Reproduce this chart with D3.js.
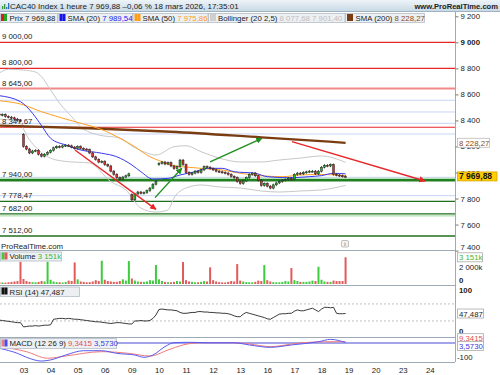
<!DOCTYPE html>
<html><head><meta charset="utf-8">
<script src="https://cdn.jsdelivr.net/npm/d3@7/dist/d3.min.js"></script>
<style>
body{margin:0;background:#fff}
svg{display:block;font-family:"Liberation Sans",Arial,sans-serif}
</style>
</head><body>
<svg id="chart" width="500" height="375"></svg>
<script>
// hourly closes per session (02 is partial)
const sessions = ["02","03","04","05","06","09","10","11","12","13","16","17","18"];
const dayOpen = [8450, 8293, 8155, 8185, 8085, 7830, 8060, 8060, 8030, 7930, 7915, 7950, 8010];
const closes = [
  [8440, 8445, 8430, 8425, 8420, 8410, 8400, 8395],
  [8200, 8180, 8150, 8165, 8170, 8140, 8125, 8140, 8155],
  [8170, 8190, 8200, 8195, 8205, 8210, 8205, 8195, 8185],
  [8200, 8185, 8180, 8175, 8150, 8120, 8100, 8080, 8085],
  [8060, 8050, 8010, 7985, 7960, 7950, 7965, 7975, 7990],
  [7790, 7835, 7850, 7840, 7845, 7860, 7880, 7910, 7930],
  [8070, 8080, 8065, 8075, 8050, 8030, 8045, 8095, 8060],
  [8000, 7985, 7995, 8010, 8000, 8020, 8045, 8040, 8030],
  [8020, 8010, 8005, 8000, 7995, 7985, 7970, 7960, 7930],
  [7915, 7935, 7960, 7985, 7995, 7975, 7940, 7900, 7915],
  [7895, 7880, 7905, 7920, 7930, 7940, 7945, 7955, 7945],
  [7985, 7995, 7990, 8000, 8005, 8010, 8010, 7990, 8010],
  [8040, 8055, 8050, 8060, 7985, 7980, 7975, 7970, 7969.88]
];
// volume in thousands
const volumes = [
  [200, 180, 160, 200, 250, 300, 350, 2620],
  [600, 350, 250, 220, 200, 250, 350, 300, 2620],
  [500, 300, 220, 200, 180, 250, 400, 350, 2550],
  [550, 300, 250, 200, 220, 300, 450, 350, 2740],
  [500, 350, 300, 250, 250, 350, 550, 400, 2700],
  [650, 400, 300, 250, 250, 300, 450, 400, 2235],
  [550, 350, 250, 220, 200, 250, 350, 300, 2590],
  [450, 300, 250, 200, 200, 250, 350, 300, 1960],
  [450, 300, 220, 200, 180, 250, 350, 300, 2350],
  [400, 300, 220, 200, 200, 250, 400, 350, 2235],
  [450, 300, 220, 200, 200, 250, 350, 300, 1880],
  [450, 350, 250, 250, 250, 300, 400, 350, 2035],
  [500, 300, 250, 250, 400, 350, 350, 350, 3151]
];
const rsi = [
  [32, 31, 30, 29, 28, 27, 26, 26],
  [16, 17, 18, 18, 19, 18, 19, 20, 20],
  [21, 34, 35, 36, 36, 35, 36, 35, 34],
  [34, 33, 32, 31, 30, 29, 28, 28, 27],
  [26, 25, 24, 25, 26, 26, 25, 24, 23],
  [23, 30, 30, 31, 30, 30, 31, 36, 44],
  [57, 58, 57, 56, 56, 55, 54, 50, 48],
  [48, 49, 50, 50, 52, 52, 51, 51, 50],
  [50, 49, 49, 48, 48, 47, 45, 42, 40],
  [40, 46, 50, 48, 46, 44, 42, 40, 38],
  [35, 34, 38, 42, 46, 47, 47, 48, 48],
  [53, 56, 54, 54, 56, 58, 60, 56, 52],
  [58, 62, 62, 61, 62, 48, 47, 47, 47.487]
];
// indicators read at sample bars: [bar, value]
const sma20 = [[0,8590],[7,8544],[11,8455],[14,8360],[17,8263],[22,8211],[27,8173],[34,8148],[39,8121],[44,8058],[47,8006],[51,7950],[56,7955],[60,7981],[65,8006],[69,8032],[74,8032],[78,8006],[85,7994],[89,7968],[96,7960],[103,7968],[107,7976],[111,7994],[115,7989.54]];
const sma50 = [[0,8551],[7,8526],[14,8467],[20,8424],[27,8378],[34,8330],[40,8263],[45,8198],[49,8134],[54,8083],[58,8052],[63,8040],[67,8032],[74,8019],[80,7994],[87,7975],[94,7968],[100,7981],[107,7985],[115,7975.86]];
const sma200 = [[0,8360],[30,8340],[57,8313],[87,8270],[115,8228.27]];
const bollUp = [[0,8765],[3,8793],[8,8787],[12,8772],[14,8736],[17,8634],[20,8532],[24,8429],[27,8350],[33,8288],[40,8265],[44,8204],[49,8150],[52,8134],[58,8198],[62,8206],[67,8160],[73,8111],[80,8081],[87,8081],[93,8096],[100,8111],[107,8127],[115,8077.68]];
const bollLo = [[0,8410],[6,8395],[10,8250],[13,8173],[17,8110],[22,8085],[30,8073],[37,7930],[42,7866],[47,7727],[52,7696],[56,7712],[58,7804],[62,7881],[67,7904],[73,7889],[80,7881],[87,7858],[93,7850],[100,7858],[107,7866],[115,7901.4]];
const macd = [[0,-38],[6,-74],[9,-102],[14,-129],[17,-121],[22,-86],[28,-55],[34,-55],[39,-74],[45,-86],[48,-102],[51,-86],[55,-26],[58,2],[63,5],[69,2],[78,2],[83,-14],[90,-31],[97,-14],[106,9],[110,26],[115,3.573]];
const signal = [[0,-26],[9,-62],[16,-109],[22,-93],[34,-62],[43,-74],[50,-93],[56,-50],[61,-14],[67,2],[78,2],[83,-7],[90,-26],[99,-2],[108,9],[115,9.3415]];
// horizontal levels
const resistances = [9000, 8800, 8645, 8347.67];
const supports = [7940, 7778.47, 7682, 7512];
const guideLines = [8555, 8465, 8378, 8296, 7963, 7822];
// drawn trend arrows: [[bar, price], [bar, price]]
const redArrows = [[[25.1, 8173], [52, 7717]], [[97.2, 8237], [141.4, 7935]]];
const greenArrows = [[[51.7, 7807], [60.6, 8032]], [[70, 8081], [87.2, 8263]]];
const axisDays = ["03","04","05","06","09","10","11","12","13","16","17","18","19","20","23","24"];
const priceTicks = [9200, 9000, 8800, 8600, 8400, 8200, 8000, 7800, 7600, 7400];

const svg = d3.select("#chart");
const R = 455;
const frVal = d3.formatLocale({decimal: ",", thousands: " ", grouping: [3]});
const f0 = frVal.format(",.0f"), f2 = frVal.format(",.2f");

// flatten bars
const bars = [];
closes.forEach((row, d) => row.forEach((c, k) => {
  bars.push({i: bars.length, o: k === 0 ? dayOpen[d] : row[k - 1], c: c, vol: volumes[d][k], rsi: rsi[d][k]});
}));

const x = d3.scaleLinear().domain([8, 143]).range([23.5, 23.5 + 135 * 3.01]);
const y = d3.scaleLinear().domain([7400, 9200]).range([250.6, 16.3]);
const yv = d3.scaleLinear().domain([0, 3151]).range([284, 257.3]);
const yr = d3.scaleLinear().domain([0, 100]).range([333.7, 291.2]);
const ym = d3.scaleLinear().domain([-100, 0]).range([357, 343]);

const defs = svg.append("defs");
function clip(id, y0, y1){
  defs.append("clipPath").attr("id", id).append("rect").attr("x", 0).attr("y", y0).attr("width", R).attr("height", y1 - y0);
}
clip("cMain", 22, 250); clip("cVol", 250, 285); clip("cRsi", 285, 337); clip("cMacd", 337, 362);
[["aRed", "#e8262a"], ["aGreen", "#1f8f1f"]].forEach(function(m){
  defs.append("marker").attr("id", m[0]).attr("viewBox", "0 0 10 10").attr("refX", 9).attr("refY", 5)
    .attr("markerWidth", 4.5).attr("markerHeight", 4.5).attr("orient", "auto")
    .append("path").attr("d", "M0,0L10,5L0,10z").attr("fill", m[1]);
});

// title bar
const grad = defs.append("linearGradient").attr("id", "gTitle").attr("x1", 0).attr("y1", 0).attr("x2", 0).attr("y2", 1);
grad.append("stop").attr("offset", 0).attr("stop-color", "#eef4f8");
grad.append("stop").attr("offset", 1).attr("stop-color", "#c9dae6");
svg.append("rect").attr("width", 500).attr("height", 11).attr("fill", "url(#gTitle)");
svg.append("line").attr("x1", 0).attr("x2", 500).attr("y1", 11.5).attr("y2", 11.5).attr("stroke", "#9fb2c2");
[[2,3,"#3a9a3a"],[4,5,"#3a9a3a"],[6,2,"#2a6fc0"],[8,6,"#2a6fc0"]].forEach(function(b){
  svg.append("rect").attr("x", b[0]).attr("y", 9 - b[1]).attr("width", 1.3).attr("height", b[1]).attr("fill", b[2]);
});
svg.append("text").attr("x", 10).attr("y", 9).attr("font-size", 8).attr("fill", "#1a1a1a")
  .text("CAC40 Index 1 heure 7 969,88 \u20130,06 % 18 mars 2026, 17:35:01");
svg.append("text").attr("x", 498).attr("y", 9).attr("text-anchor", "end").attr("font-size", 7.6)
  .attr("font-weight", "bold").attr("fill", "#222").text("www.ProRealTime.com");

// main panel
const gMain = svg.append("g").attr("clip-path", "url(#cMain)");
guideLines.forEach(function(v){
  gMain.append("line").attr("x1", 0).attr("x2", R).attr("y1", y(v)).attr("y2", y(v)).attr("stroke", "#c6d4f6").attr("stroke-width", 1);
});
resistances.forEach(function(v){
  const pink = v === 8645;
  gMain.append("line").attr("x1", 0).attr("x2", R).attr("y1", y(v)).attr("y2", y(v))
    .attr("stroke", pink ? "#f08a8a" : "#e8262a").attr("stroke-width", pink ? 2 : 1.2);
});
supports.forEach(function(v){
  gMain.append("line").attr("x1", 0).attr("x2", R).attr("y1", y(v)).attr("y2", y(v))
    .attr("stroke", v === 7940 ? "#217e21" : "#1f6f1f").attr("stroke-width", v === 7940 ? 2.4 : 1.4);
});
gMain.append("line").attr("x1", 0).attr("x2", R).attr("y1", y(7682) + 2).attr("y2", y(7682) + 2).attr("stroke", "#9fd89f").attr("stroke-width", 1);
gMain.append("line").attr("x1", 0).attr("x2", R).attr("y1", y(7940) - 2).attr("y2", y(7940) - 2).attr("stroke", "#a6dba6").attr("stroke-width", 1);

const curve = d3.line().x(d => x(d[0])).y(d => y(d[1])).curve(d3.curveMonotoneX);
[[bollUp, "#c8c8c8", 1], [bollLo, "#c8c8c8", 1], [sma200, "#7a3d12", 2.3], [sma50, "#ffa020", 1], [sma20, "#3838f0", 1]].forEach(function(s){
  gMain.append("path").attr("d", curve(s[0])).attr("fill", "none").attr("stroke", s[1]).attr("stroke-width", s[2]);
});

// candles
const cg = gMain.append("g");
bars.forEach(function(b){
  const hi = Math.min(y(b.o), y(b.c)), lo = Math.max(y(b.o), y(b.c));
  cg.append("line").attr("x1", x(b.i)).attr("x2", x(b.i)).attr("y1", hi - 1.2).attr("y2", lo + 1.2).attr("stroke", "#222").attr("stroke-width", 0.8);
  cg.append("rect").attr("x", x(b.i) - 1).attr("y", hi).attr("width", 2).attr("height", Math.max(1, lo - hi))
    .attr("fill", b.c >= b.o ? "#27b327" : "#d93030").attr("stroke", "#222").attr("stroke-width", 0.5);
});

// arrows
[[redArrows, "#e8262a", "aRed"], [greenArrows, "#1f8f1f", "aGreen"]].forEach(function(a){
  a[0].forEach(function(seg){
    gMain.append("line").attr("x1", x(seg[0][0])).attr("y1", y(seg[0][1])).attr("x2", x(seg[1][0])).attr("y2", y(seg[1][1]))
      .attr("stroke", a[1]).attr("stroke-width", 1.4).attr("marker-end", "url(#" + a[2] + ")");
  });
});

// level labels
resistances.concat(supports).forEach(function(v){
  gMain.append("text").attr("x", 2).attr("y", y(v) - 3).attr("font-size", 7.8).attr("fill", "#222").text(f2(v));
});
svg.append("text").attr("x", 1).attr("y", 248.5).attr("font-size", 7.8).attr("fill", "#222").text("ProRealTime.com");
svg.append("rect").attr("x", 341.5).attr("y", 240.5).attr("width", 7).attr("height", 6.5).attr("rx", 1).attr("fill", "#f2f2f2").attr("stroke", "#999").attr("stroke-width", 0.6);
svg.append("text").attr("x", 345).attr("y", 246).attr("text-anchor", "middle").attr("font-size", 6).attr("fill", "#555").text("i");

// legend row
function legendBox(x0, w, y0, h){
  svg.append("rect").attr("x", x0 + 0.5).attr("y", y0 + 0.5).attr("width", w).attr("height", h).attr("fill", "#edf0f3").attr("stroke", "#b3bcc5").attr("stroke-width", 0.8);
}
function sq(x0, y0, c1, c2){
  svg.append("rect").attr("x", x0).attr("y", y0).attr("width", 3).attr("height", 7).attr("fill", c1);
  svg.append("rect").attr("x", x0 + 3).attr("y", y0).attr("width", 3).attr("height", 7).attr("fill", c2 || c1);
}
function ltext(x0, y0, parts){
  const t = svg.append("text").attr("x", x0).attr("y", y0).attr("font-size", 7.8);
  parts.forEach(p => t.append("tspan").attr("fill", p[1]).text(p[0]));
}
legendBox(0, 57, 13, 9); sq(1, 14, "#d42020", "#22a822"); ltext(9.5, 20.5, [["Prix 7 969,88", "#222"]]);
legendBox(57.5, 74.5, 13, 9); sq(59.5, 14, "#1414ee"); ltext(67.5, 20.5, [["SMA (20) ", "#222"], ["7 989,54", "#2020f0"]]);
legendBox(132.5, 75, 13, 9); sq(134.5, 14, "#ff9c1a"); ltext(142.5, 20.5, [["SMA (50) ", "#222"], ["7 975,86", "#ff9c1a"]]);
legendBox(208, 136.5, 13, 9); sq(210, 14, "#cfcfcf"); ltext(218, 20.5, [["Bollinger (20 2,5) ", "#222"], ["8 077,68 7 901,40", "#bdbdbd"]]);
legendBox(345, 79, 13, 9); sq(347, 14, "#7a3d12"); ltext(355.5, 20.5, [["SMA (200) ", "#222"], ["8 228,27", "#8a4a1a"]]);

// volume panel
const gVol = svg.append("g").attr("clip-path", "url(#cVol)");
bars.forEach(function(b){
  gVol.append("rect").attr("x", x(b.i) - 1).attr("y", yv(b.vol)).attr("width", 2).attr("height", yv(0) - yv(b.vol))
    .attr("fill", b.c >= b.o ? "#3ccc3c" : "#e25a5a");
});
legendBox(0, 61, 251.5, 9); sq(1.5, 252.5, "#3ccc3c", "#e25a5a"); ltext(9.5, 259.3, [["Volume ", "#222"], ["3 151k", "#3bb53b"]]);

// RSI panel
const gRsi = svg.append("g").attr("clip-path", "url(#cRsi)");
[70, 30].forEach(function(v){
  gRsi.append("line").attr("x1", 0).attr("x2", R).attr("y1", yr(v)).attr("y2", yr(v)).attr("stroke", "#b0b0b0").attr("stroke-dasharray", "2,2").attr("stroke-width", 0.8);
});
gRsi.append("path").attr("d", d3.line().x(d => x(d.i)).y(d => yr(d.rsi))(bars)).attr("fill", "none").attr("stroke", "#222").attr("stroke-width", 0.9);
legendBox(0, 79, 286.5, 9.5); sq(1.5, 287.5, "#111"); ltext(9.5, 294.5, [["RSI (14) 47,487", "#222"]]);

// MACD panel
const gMacd = svg.append("g").attr("clip-path", "url(#cMacd)");
gMacd.append("line").attr("x1", 0).attr("x2", R).attr("y1", ym(0)).attr("y2", ym(0)).attr("stroke", "#4a4ad8").attr("stroke-width", 1.2);
const ml = d3.line().x(d => x(d[0])).y(d => ym(d[1])).curve(d3.curveMonotoneX);
gMacd.append("path").attr("d", ml(signal)).attr("fill", "none").attr("stroke", "#f07a7a").attr("stroke-width", 1);
gMacd.append("path").attr("d", ml(macd)).attr("fill", "none").attr("stroke", "#5a5af0").attr("stroke-width", 1);
legendBox(0, 116, 338, 10); sq(1.5, 339.5, "#f07a7a", "#4a4af0");
ltext(9.5, 346.3, [["MACD (12 26 9) ", "#222"], ["9,3415 ", "#e05050"], ["3,5730", "#3a3ae0"]]);

// frames
const frame = svg.append("g").attr("stroke", "#9eaab6").attr("stroke-width", 1);
[250, 285, 337, 362].forEach(function(v){
  frame.append("line").attr("x1", 0).attr("x2", R).attr("y1", v + 0.5).attr("y2", v + 0.5);
});
frame.append("line").attr("x1", R + 0.5).attr("x2", R + 0.5).attr("y1", 12).attr("y2", 362);

// right price axis
const ya = svg.append("g").attr("transform", "translate(" + (R + 0.5) + ",0)")
  .call(d3.axisRight(y).tickValues(priceTicks).tickSize(3).tickPadding(2).tickFormat(f0));
ya.select(".domain").remove();
ya.selectAll("line").attr("stroke", "#777");
ya.selectAll("text").attr("font-size", 7.8).attr("fill", "#222").attr("font-family", "Liberation Sans, Arial, sans-serif")
  .attr("font-weight", d => d === 9000 ? "bold" : null)
  .attr("dy", d => d === 7400 ? "-0.15em" : "0.32em");

function tag(yc, label, fg, bg, border, bold, w){
  svg.append("rect").attr("x", 457.5).attr("y", yc - 4.5).attr("width", w).attr("height", 9).attr("fill", bg).attr("stroke", border).attr("stroke-width", 0.8);
  svg.append("text").attr("x", 459).attr("y", yc + 3).attr("font-size", bold ? 8.5 : 7.8).attr("font-weight", bold ? "bold" : null).attr("fill", fg).text(label);
}
tag(y(8228.27), "8 228,27", "#8a4a1a", "#fff", "#bbb", false, 32);
tag(y(7969.88), "7 969,88", "#111", "#ffcc00", "#d4a800", true, 39.5);

// lower axis labels
function small(xp, yp, label, opts){
  svg.append("text").attr("x", xp).attr("y", yp).attr("font-size", 7.8).attr("fill", opts && opts.c || "#222")
    .attr("font-weight", opts && opts.b ? "bold" : null).text(label);
}
tag(yv(3151), "3 151k", "#3bb53b", "#fff", "#aaa", false, 25);
small(459, yv(2000) + 3, "2 000k");
small(459, yv(0) - 1, "0", {b: 1});
small(459, yr(100) + 2, "100", {b: 1});
tag(yr(47.487), "47,487", "#222", "#fff", "#aaa", false, 26);
small(459, yr(0), "0", {b: 1});
tag(ym(9.3415) - 3.5, "9,3415", "#e05050", "#fff", "#aaa", false, 26);
tag(ym(3.573) + 3.5, "3,5730", "#3a3ae0", "#fff", "#aaa", false, 26);
small(457, ym(-100) + 3, "-100");

// time axis
const xa = svg.append("g").attr("transform", "translate(0,362)")
  .call(d3.axisBottom(x).tickValues(axisDays.map((d, k) => 8 + 9 * k)).tickSize(0).tickPadding(5).tickFormat((d, k) => axisDays[k]));
xa.select(".domain").remove();
xa.selectAll("text").attr("font-size", 7.8).attr("fill", "#222").attr("font-family", "Liberation Sans, Arial, sans-serif");
</script>
</body></html>
